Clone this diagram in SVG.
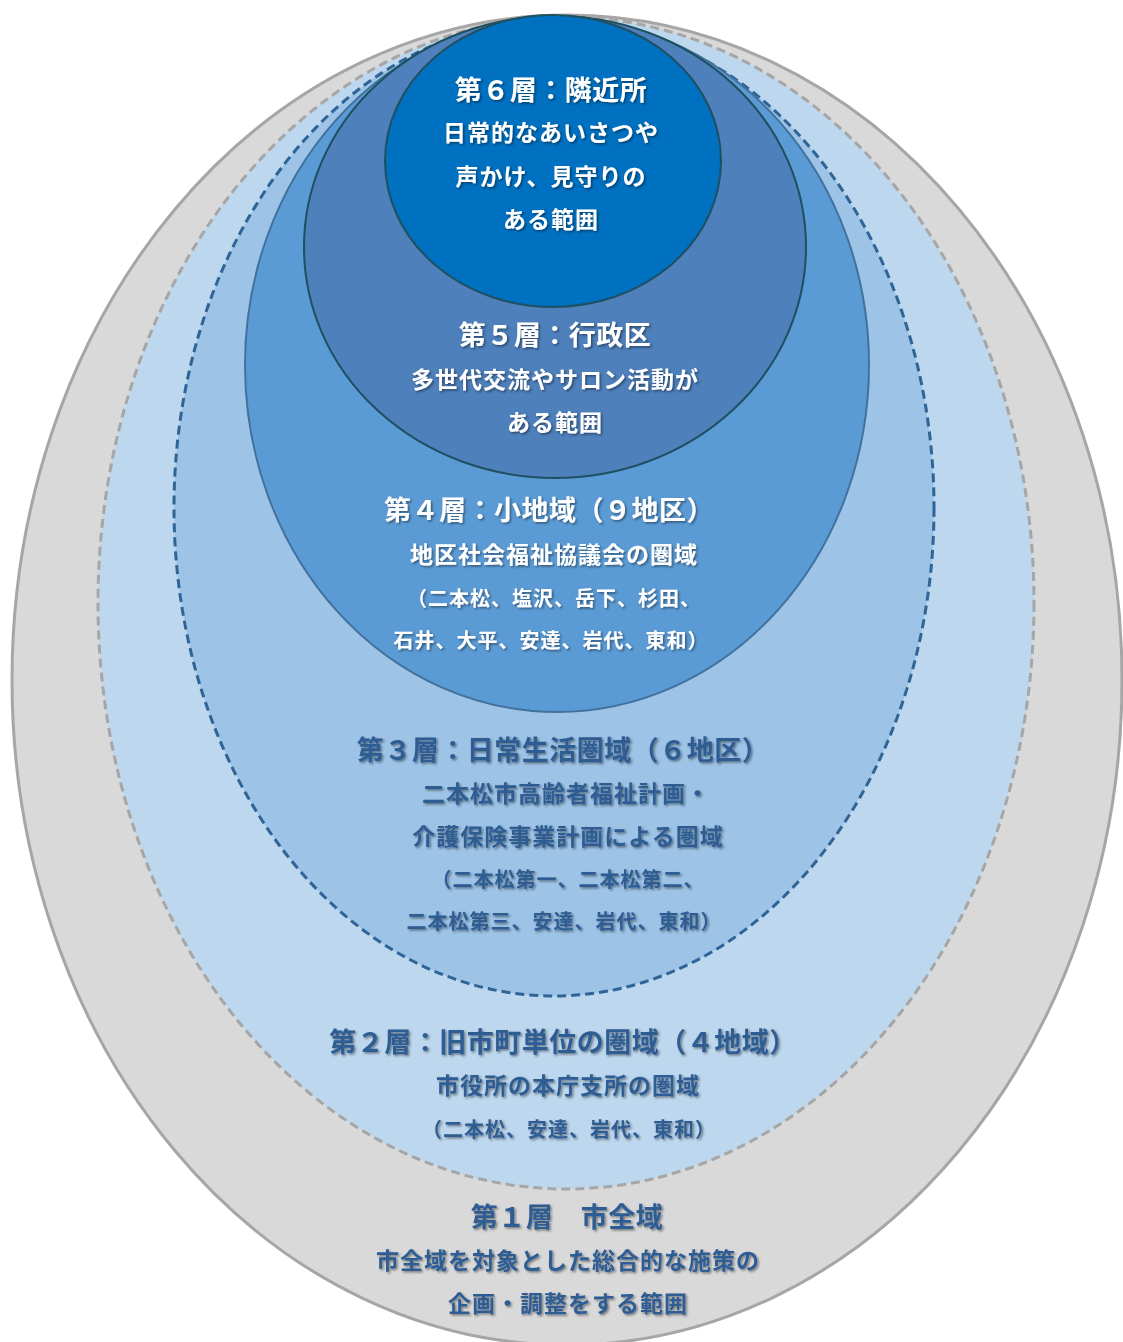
<svg xmlns="http://www.w3.org/2000/svg" width="1123" height="1342" viewBox="0 0 1123 1342">
<defs>
<filter id="sh" x="-10%" y="-50%" width="120%" height="200%">
<feDropShadow dx="1.5" dy="1.5" stdDeviation="1" flood-color="#000" flood-opacity="0.45"/>
</filter>
<style>
text{font-family:"Noto Sans CJK JP","Noto Sans CJK SC",sans-serif;font-weight:bold;text-anchor:middle;dominant-baseline:central}
.w{fill:#ffffff}
.d{fill:#2f5d94}
.h{font-size:27px;letter-spacing:0.5px}
.s{font-size:23px;letter-spacing:1px}
.p{font-size:20px;letter-spacing:1px}
</style>
</defs>
<rect width="1123" height="1342" fill="#ffffff"/>
<g id="layer1">
<ellipse cx="567" cy="680" rx="555" ry="665" fill="#d9d9d9" stroke="#a6a6a6" stroke-width="3"/>
<g filter="url(#sh)" class="d">
<text x="567" y="1215" class="h">第１層　市全域</text>
<text x="568" y="1259" class="s">市全域を対象とした総合的な施策の</text>
<text x="568" y="1302" class="s">企画・調整をする範囲</text>
</g>
</g>
<g id="layer2">
<ellipse cx="566" cy="603" rx="468" ry="586" fill="#bdd7ee" stroke="#a6a6a6" stroke-width="3" stroke-dasharray="9,5"/>
<g filter="url(#sh)" class="d">
<text x="563" y="1040" class="h">第２層：旧市町単位の圏域（４地域）</text>
<text x="568" y="1084" class="s">市役所の本庁支所の圏域</text>
<text x="569" y="1128" class="p">（二本松、安達、岩代、東和）</text>
</g>
</g>
<g id="layer3">
<ellipse cx="554" cy="508" rx="380" ry="488" fill="#9dc3e6" stroke="#2f6497" stroke-width="3" stroke-dasharray="9,5"/>
<g filter="url(#sh)" class="d">
<text x="563" y="748" class="h">第３層：日常生活圏域（６地区）</text>
<text x="566" y="792" class="s">二本松市高齢者福祉計画・</text>
<text x="568" y="835" class="s">介護保険事業計画による圏域</text>
<text x="568" y="878" class="p">（二本松第一、二本松第二、</text>
<text x="564" y="920" class="p">二本松第三、安達、岩代、東和）</text>
</g>
</g>
<g id="layer4">
<ellipse cx="557" cy="365" rx="312" ry="347" fill="#5b9bd5" stroke="#41719c" stroke-width="2"/>
<g filter="url(#sh)" class="w">
<text x="549" y="508" class="h">第４層：小地域（９地区）</text>
<text x="554" y="553" class="s">地区社会福祉協議会の圏域</text>
<text x="554" y="597" class="p">（二本松、塩沢、岳下、杉田、</text>
<text x="551" y="639" class="p">石井、大平、安達、岩代、東和）</text>
</g>
</g>
<g id="layer5">
<ellipse cx="555" cy="247" rx="251" ry="231" fill="#4e80bc" stroke="#1f5060" stroke-width="2"/>
<g filter="url(#sh)" class="w">
<text x="555" y="333" class="h">第５層：行政区</text>
<text x="555" y="378" class="s">多世代交流やサロン活動が</text>
<text x="555" y="421" class="s">ある範囲</text>
</g>
</g>
<g id="layer6">
<ellipse cx="553" cy="161" rx="168" ry="146" fill="#0070c0" stroke="#1f5060" stroke-width="2"/>
<g filter="url(#sh)" class="w">
<text x="551" y="88" class="h">第６層：隣近所</text>
<text x="551" y="131" class="s">日常的なあいさつや</text>
<text x="551" y="175" class="s">声かけ、見守りの</text>
<text x="551" y="218" class="s">ある範囲</text>
</g>
</g>
<g id="connectors"/>
</svg>
